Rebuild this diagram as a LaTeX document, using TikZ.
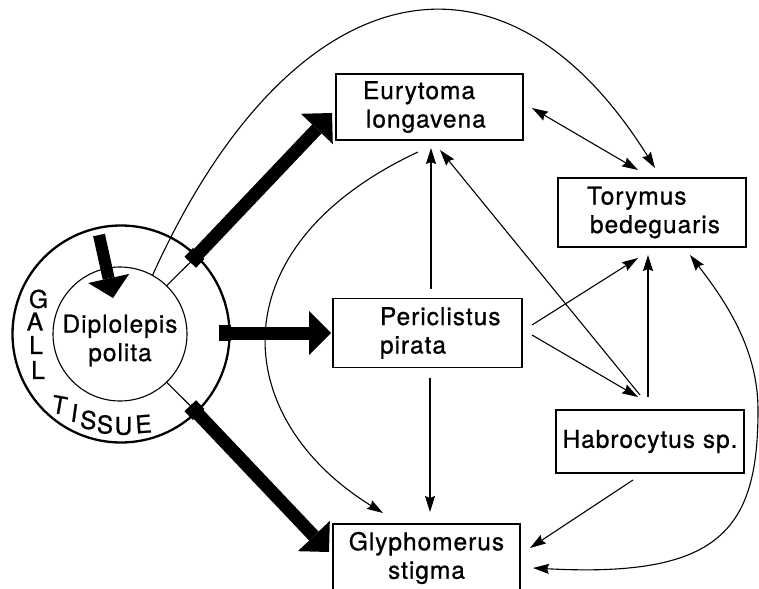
\documentclass[tikz,border=0pt]{standalone}
\usepackage{fontspec}
\setmainfont{TeX Gyre Heros}[LetterSpace=4,FakeBold=0.8]
\usetikzlibrary{arrows.meta,calc}
\tikzset{
  >={Stealth[length=16pt,width=10pt,inset=2pt]},
  box/.style={draw, line width=1.4pt, inner ysep=0pt, outer sep=0pt, font=\fontsize{24.5}{28.5}\selectfont},
  conn/.style={line width=1.1pt},
  bigarrow/.style={line width=13pt, -{Triangle[length=22pt,width=44pt,line width=0pt]}},
  knob/.style={line width=16pt},
  letter/.style={inner sep=0pt, outer sep=0pt, font=\fontsize{24.5}{28.5}\selectfont},
}
\begin{document}
\begin{tikzpicture}[x=1pt,y=-1pt]
\useasboundingbox (0,0) rectangle (759,588);
% gall
\node[circle, draw, line width=2.3pt, minimum size=217pt, inner sep=0pt, outer sep=0pt] (tissue) at (121,334) {};
\node[circle, draw, line width=1.1pt, minimum size=134pt, inner sep=0pt, outer sep=0pt, align=center,
      font=\fontsize{24.5}{28.5}\selectfont] (gall) at (120,334) {\rule{0pt}{31pt}Diplolepis\\polita};
% GALL TISSUE letters
\node[letter] (g1) at (38.5,299) {G};
\node[letter] (g2) at (35,321.5) {A};
\node[letter] (g3) at (36,345) {L};
\node[letter] (g4) at (38,370) {L};
\node[letter, rotate=-10] (t1) at (59.5,405) {T};
\node[letter, rotate=-8] (t2) at (74.5,413) {I};
\node[letter, rotate=-5] (t3) at (88.5,420) {S};
\node[letter, rotate=-2] (t4) at (105,424.5) {S};
\node[letter] (t5) at (123.5,426) {U};
\node[letter, rotate=4] (t6) at (143.5,424) {E};
% boxes
\node[box, minimum width=187pt, minimum height=66pt, text width=171pt, inner xsep=8pt, align=left] (eury) at (429.5,107)
  {\hspace*{19pt}Eurytoma\\\hspace*{22pt}longavena};
\node[box, minimum width=188pt, minimum height=69pt, text width=172pt, inner xsep=8pt, align=left] (tory) at (652,212.5)
  {\hspace*{21pt}Torymus\\\hspace*{24pt}bedeguaris};
\node[box, minimum width=189pt, minimum height=69pt, text width=173pt, inner xsep=8pt, align=left] (peri) at (427.5,333)
  {\hspace*{39pt}Periclistus\\\hspace*{39pt}pirata};
\node[box, minimum width=188pt, minimum height=63pt, align=center] (habr) at (650,441.5) {Habrocytus sp.};
\node[box, minimum width=187pt, minimum height=68pt, align=center] (glyph) at (426.5,558) {Glyphomerus\\stigma};
% thick arrows
\coordinate (s1) at ($(tissue.center)!0.92!(tissue.46.5)$);
\coordinate (e1) at ($(eury.west)+(-4,6)$);
\coordinate (s2) at ($(tissue.center)!0.92!(tissue.-46.2)$);
\coordinate (e2) at ($(glyph.west)+(-4,-6)$);
\coordinate (s3) at ($(tissue.east)+(-11,-1)$);
\coordinate (e3) at ($(peri.west)+(-2,0)$);
\draw[conn] (gall.46.5) -- (s1);
\draw[conn] (gall.-46.2) -- (s2);
\draw[bigarrow] (s1) -- (e1);
\draw[bigarrow] (s2) -- (e2);
\draw[bigarrow] (s3) -- (e3);
\draw[knob] (s1) -- ($(s1)!12pt!(e1)$);
\draw[knob] (s2) -- ($(s2)!12pt!(e2)$);
\draw[knob] (s3) -- ($(s3)!12pt!(e3)$);
% food arrow into gall
\coordinate (f1) at (99,235);
\coordinate (f2) at (113,298);
\draw[line width=12pt, -{Triangle[length=20pt,width=42pt,line width=0pt]}] (f1) -- (f2);
% thin connectors
\draw[conn,<->] ($(eury.east)+(9,1)$) -- ($(tory.north)+(-14,-8)$);
\draw[conn,->] (gall.61.5) .. controls (289,-27) and (501,-79) .. ($(tory.north)+(3,-10)$);
\draw[conn,->] ($(peri.north)+(3.5,-10)$) -- ($(eury.south)+(1.5,8)$);
\draw[conn,->] ($(habr.north)+(-10,-15)$) -- ($(eury.south)+(10.5,10)$);
\draw[conn,->] ($(peri.east)+(10,-8)$) -- ($(tory.south)+(-14,11)$);
\draw[conn,->] ($(peri.east)+(10,2)$) -- ($(habr.north)+(-12,-13)$);
\draw[conn,->] ($(habr.north)+(-2,-13)$) -- ($(tory.south)+(-4,8)$);
\coordinate (rc) at (758,410);
\draw[conn,<->] ($(tory.south)+(38,8)$) .. controls (727,303) and (758,350) .. (rc)
   .. controls (758,530) and (720,578) .. ($(glyph.east)+(13,10)$);
\draw[conn,->] ($(peri.south)+(2.5,10)$) -- ($(glyph.north)+(3.5,-12)$);
\draw[conn,->] ($(habr.south)+(-17,7)$) -- ($(glyph.east)+(10,-10)$);
\draw[conn,->] ($(eury.south)+(-11.5,12)$) .. controls (215.5,246.5) and (229,418) .. ($(glyph.north)+(-43.5,-11)$);
\end{tikzpicture}
\end{document}
